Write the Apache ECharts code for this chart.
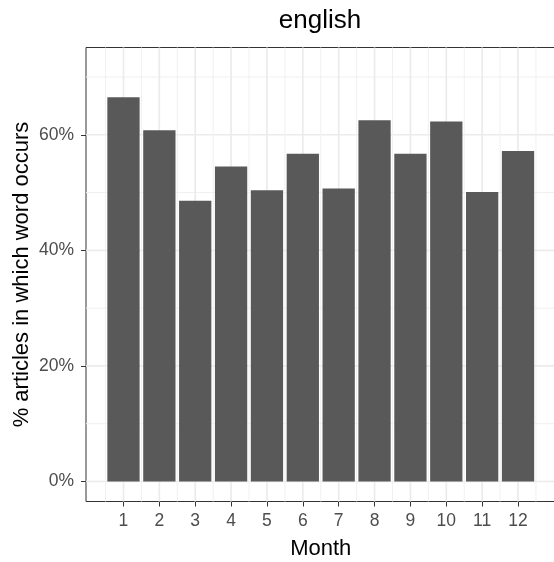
<!DOCTYPE html>
<html>
<head>
<meta charset="utf-8">
<script src="https://cdn.jsdelivr.net/npm/echarts@6/dist/echarts.min.js"></script>
<style>
html,body{margin:0;padding:0;background:#fff;}
#chart{width:554px;height:562px;}
</style>
</head>
<body>
<div id="chart"></div>
<script>
// Data
const months = [1, 2, 3, 4, 5, 6, 7, 8, 9, 10, 11, 12];
const pctArticles = [66.5, 60.8, 48.6, 54.5, 50.4, 56.7, 50.7, 62.5, 56.7, 62.3, 50.1, 57.2];
const yTicks = [0, 20, 40, 60];
const yMinor = [10, 30, 50, 70];
const xTicks = [1, 2, 3, 4, 5, 6, 7, 8, 9, 10, 11, 12];
const xMinor = [0.5, 1.5, 2.5, 3.5, 4.5, 5.5, 6.5, 7.5, 8.5, 9.5, 10.5, 11.5, 12.5];
const titleText = 'english';
const xTitle = 'Month';
const yTitle = '% articles in which word occurs';

const FONT = '"Liberation Sans", Arial, sans-serif';
const X_MIN = -0.045, X_MAX = 13.045;
const Y_MIN = -3.46, Y_MAX = 75.1;

const gridLines = [];
yTicks.forEach(v => gridLines.push({value: ['h', v], major: true}));
yMinor.forEach(v => gridLines.push({value: ['h', v], major: false}));
xTicks.forEach(v => gridLines.push({value: ['v', v], major: true}));
xMinor.forEach(v => gridLines.push({value: ['v', v], major: false}));

const chart = echarts.init(document.getElementById('chart'), null, {renderer: 'canvas'});
chart.setOption({
  animation: false,
  backgroundColor: '#ffffff',
  textStyle: {fontFamily: FONT},
  graphic: [{
    type: 'text', x: 320, y: 21,
    style: {text: titleText, font: '26px ' + FONT, fill: '#000', textAlign: 'center', textVerticalAlign: 'middle'}
  }],
  grid: {
    left: 86, top: 47.5, width: 469.5, height: 454,
    containLabel: false, outerBoundsMode: 'none',
    show: true, borderColor: '#333333', borderWidth: 1, backgroundColor: '#ffffff', z: 0
  },
  xAxis: {
    type: 'value', min: X_MIN, max: X_MAX, position: 'bottom',
    name: xTitle, nameLocation: 'middle', nameGap: 36, nameMoveOverlap: false,
    nameTextStyle: {fontSize: 22, color: '#000', fontFamily: FONT},
    axisLine: {show: false, onZero: false},
    axisTick: {show: true, length: 5, lineStyle: {color: '#333', width: 1}, customValues: xTicks},
    axisLabel: {color: '#4D4D4D', fontSize: 17.5, fontFamily: FONT, margin: 10.5, customValues: xTicks},
    splitLine: {show: false}
  },
  yAxis: {
    type: 'value', min: Y_MIN, max: Y_MAX, position: 'left',
    name: yTitle, nameLocation: 'middle', nameGap: 53, nameRotate: 90, nameMoveOverlap: false,
    nameTextStyle: {fontSize: 22, color: '#000', fontFamily: FONT},
    axisLine: {show: false, onZero: false},
    axisTick: {show: true, length: 5, lineStyle: {color: '#333', width: 1}, customValues: yTicks},
    axisLabel: {color: '#4D4D4D', fontSize: 17.5, fontFamily: FONT, margin: 12, customValues: yTicks,
      formatter: v => v + '%'},
    splitLine: {show: false}
  },
  series: [
    {
      type: 'custom', name: 'grid', z: 1, silent: true,
      data: gridLines,
      renderItem: function (params, api) {
        const it = gridLines[params.dataIndex];
        const kind = it.value[0], v = it.value[1];
        let p1, p2;
        if (kind === 'h') { p1 = api.coord([X_MIN, v]); p2 = api.coord([X_MAX, v]); }
        else { p1 = api.coord([v, Y_MIN]); p2 = api.coord([v, Y_MAX]); }
        return {
          type: 'line',
          shape: {x1: p1[0], y1: p1[1], x2: p2[0], y2: p2[1]},
          style: {stroke: it.major ? '#EBEBEB' : '#F0F0F0', lineWidth: it.major ? 1.7 : 1}
        };
      },
      encode: {x: -1, y: -1}
    },
    {
      type: 'custom', name: 'bars', z: 2,
      data: months.map((m, i) => [m, pctArticles[i]]),
      renderItem: function (params, api) {
        const x = api.value(0), y = api.value(1);
        const tl = api.coord([x - 0.45, y]);
        const br = api.coord([x + 0.45, 0]);
        return {
          type: 'rect',
          shape: {x: tl[0], y: tl[1], width: br[0] - tl[0], height: br[1] - tl[1]},
          style: {fill: '#595959'}
        };
      },
      encode: {x: 0, y: 1}
    }
  ]
});
</script>
</body>
</html>
